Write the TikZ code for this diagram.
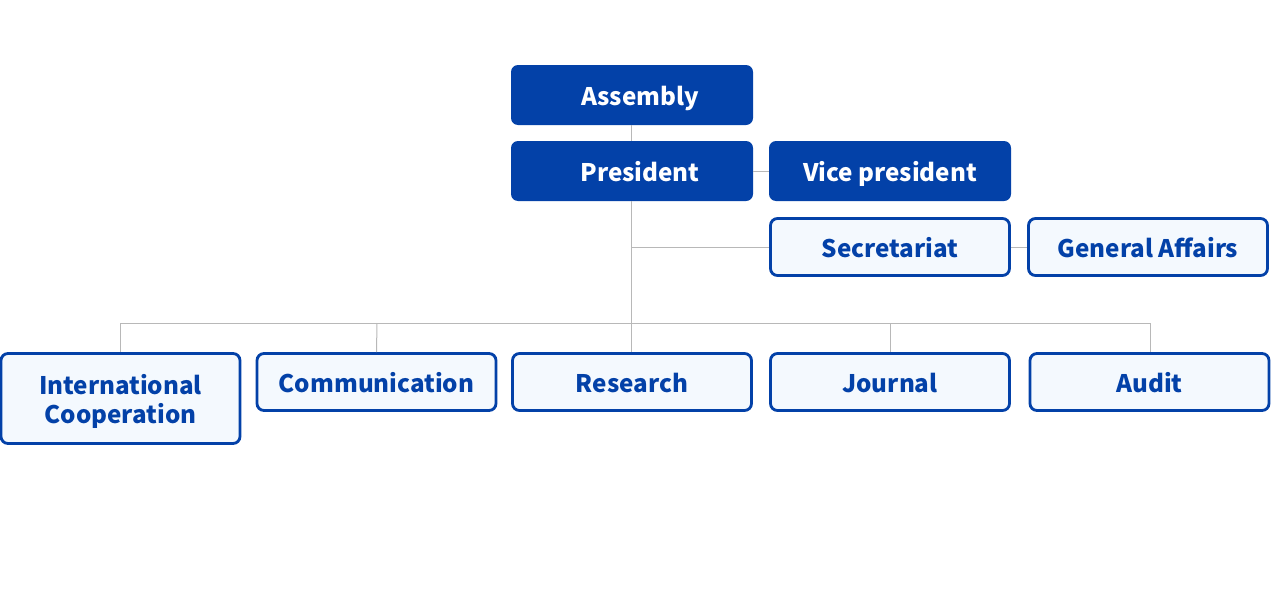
\documentclass[tikz,border=0pt]{standalone}
\usepackage{fontspec}
\setmainfont{Noto Sans CJK KR}
\definecolor{navy}{HTML}{0341A8}
\definecolor{pale}{HTML}{F4F9FE}
\definecolor{wire}{HTML}{B8B8B8}
\begin{document}
\begin{tikzpicture}[x=1pt,y=-1pt,
  boxfont/.style={font=\fontsize{24.2}{29}\selectfont\bfseries},
  darkbox/.style={boxfont,fill=navy,text=white,rounded corners=7pt,minimum width=242pt,minimum height=60pt,inner sep=0pt,text height=21pt,text depth=0pt},
  lightbox/.style={boxfont,fill=pale,draw=navy,line width=2.8pt,text=navy,rounded corners=7pt,minimum width=239pt,minimum height=57pt,inner sep=0pt,text height=21pt,text depth=0pt},
  wireline/.style={draw=wire,line width=1pt}]
\useasboundingbox (0,0) rectangle (1271,613);
\coordinate (bar) at (631,323);
\coordinate (sec junction) at (631,247);
\coordinate (barL) at (120,323);
\coordinate (barR) at (1150,323);
\node[darkbox] (asm) at (632,95) {\hspace*{16pt}Assembly};
\node[darkbox] (pres) at (632,171) {\hspace*{16pt}President};
\node[darkbox] (vp) at (890,171) {Vice president};
\node[lightbox] (sec) at (890,247) {Secretariat};
\node[lightbox] (ga) at (1148,247) {General Affairs};
\node[lightbox,minimum height=90pt] (intl) at (120.5,398.5) {};
\node[boxfont,text=navy,align=center,inner sep=0pt] (intl text) at (120.5,401) {International\\Cooperation};
\node[lightbox] (comm) at (376.5,382) {Communication};
\node[lightbox] (res) at (632,382) {Research};
\node[lightbox] (jour) at (890,382) {Journal};
\node[lightbox] (aud) at (1149.5,382) {Audit};
\draw[wireline] (asm.south -| bar) -- (pres.north -| bar);
\draw[wireline] (pres.south -| bar) -- (bar);
\draw[wireline] (pres.east) -- (vp.west);
\draw[wireline] (sec junction) -- (sec.west);
\draw[wireline] (sec.east) -- (ga.west);
\draw[wireline] (barL) -- (barR);
\draw[wireline] (barL) -- (intl.north -| barL);
\draw[wireline] (377,323) -- (comm.north);
\draw[wireline] (bar) -- (res.north -| bar);
\draw[wireline] (jour.north |- bar) -- (jour.north);
\draw[wireline] (barR) -- (aud.north -| barR);
\end{tikzpicture}
\end{document}
